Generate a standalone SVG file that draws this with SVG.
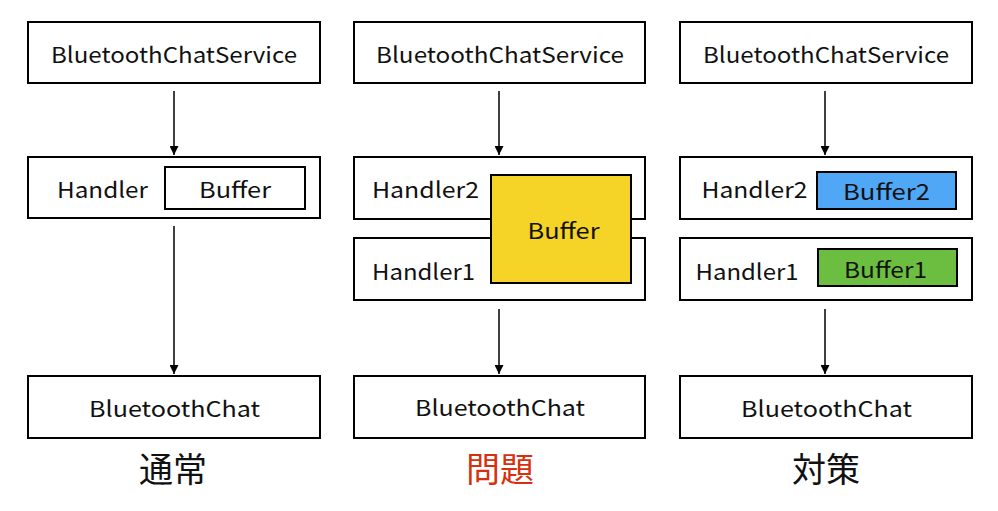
<svg xmlns="http://www.w3.org/2000/svg" width="998" height="511" viewBox="0 0 998 511">
<defs>
<marker id="ah" markerWidth="10" markerHeight="9" refX="9" refY="4.5" orient="auto" markerUnits="userSpaceOnUse">
<path d="M0,0 L9,4.5 L0,9 Z" fill="#000"/>
</marker>
<style>
.box{fill:#fff;stroke:#000;stroke-width:2}
.t{font-family:"Noto Sans CJK JP","Noto Sans",sans-serif;font-size:22px;fill:#111;text-anchor:middle;dominant-baseline:central}
.h{font-family:"Noto Sans CJK JP",sans-serif;font-size:34px;text-anchor:middle}
.c{stroke:#000;stroke-width:1.5;fill:none;marker-end:url(#ah)}
</style>
</defs>
<rect width="998" height="511" fill="#fff"/>
<g id="connectors">
<line class="c" x1="174" y1="91" x2="174" y2="155"/>
<line class="c" x1="174" y1="226" x2="174" y2="374"/>
<line class="c" x1="499" y1="91" x2="499" y2="155"/>
<line class="c" x1="499" y1="309" x2="499" y2="374"/>
<line class="c" x1="825" y1="91" x2="825" y2="155"/>
<line class="c" x1="825" y1="309" x2="825" y2="374"/>
</g>
<g id="col1-service"><rect class="box" x="28" y="22" width="292" height="61"/><text class="t" x="174" y="53" textLength="246" lengthAdjust="spacingAndGlyphs">BluetoothChatService</text></g>
<g id="col1-handler"><rect class="box" x="28" y="157" width="292" height="61"/><text class="t" x="102.5" y="188" textLength="91" lengthAdjust="spacingAndGlyphs">Handler</text>
<rect class="box" x="165" y="167" width="140" height="42"/><text class="t" x="235" y="188" textLength="72" lengthAdjust="spacingAndGlyphs">Buffer</text></g>
<g id="col1-chat"><rect class="box" x="28" y="376" width="292" height="62"/><text class="t" x="174.5" y="407" textLength="171" lengthAdjust="spacingAndGlyphs">BluetoothChat</text></g>
<text id="label-normal" class="h" x="173" y="482" fill="#111">通常</text>

<g id="col2-service"><rect class="box" x="354" y="22" width="291" height="61"/><text class="t" x="500" y="53" textLength="248" lengthAdjust="spacingAndGlyphs">BluetoothChatService</text></g>
<g id="col2-handler2"><rect class="box" x="354" y="157" width="291" height="62"/><text class="t" x="425.5" y="188" textLength="107" lengthAdjust="spacingAndGlyphs">Handler2</text></g>
<g id="col2-handler1"><rect class="box" x="354" y="238" width="291" height="62"/><text class="t" x="423.5" y="270" textLength="103" lengthAdjust="spacingAndGlyphs">Handler1</text></g>
<g id="col2-buffer"><rect x="491" y="175" width="140" height="108" fill="#F5D327" stroke="#000" stroke-width="2"/><text class="t" x="563.5" y="229" textLength="72" lengthAdjust="spacingAndGlyphs">Buffer</text></g>
<g id="col2-chat"><rect class="box" x="354" y="376" width="291" height="62"/><text class="t" x="500" y="406" textLength="170" lengthAdjust="spacingAndGlyphs">BluetoothChat</text></g>
<text id="label-problem" class="h" x="500" y="482" fill="#D6300F">問題</text>

<g id="col3-service"><rect class="box" x="680" y="22" width="292" height="61"/><text class="t" x="826" y="53" textLength="246" lengthAdjust="spacingAndGlyphs">BluetoothChatService</text></g>
<g id="col3-handler2"><rect class="box" x="680" y="157" width="292" height="62"/><text class="t" x="754.5" y="188" textLength="106" lengthAdjust="spacingAndGlyphs">Handler2</text>
<rect x="817" y="172" width="139" height="37" fill="#4FA7F5" stroke="#000" stroke-width="2"/><text class="t" x="886.5" y="190" textLength="87" lengthAdjust="spacingAndGlyphs">Buffer2</text></g>
<g id="col3-handler1"><rect class="box" x="680" y="238" width="292" height="62"/><text class="t" x="747" y="270" textLength="103" lengthAdjust="spacingAndGlyphs">Handler1</text>
<rect x="818" y="249" width="139" height="37" fill="#6CBE40" stroke="#000" stroke-width="2"/><text class="t" x="885.5" y="268" textLength="83" lengthAdjust="spacingAndGlyphs">Buffer1</text></g>
<g id="col3-chat"><rect class="box" x="680" y="376" width="292" height="62"/><text class="t" x="826.5" y="407" textLength="171" lengthAdjust="spacingAndGlyphs">BluetoothChat</text></g>
<text id="label-fix" class="h" x="826" y="482" fill="#111">対策</text>
</svg>
